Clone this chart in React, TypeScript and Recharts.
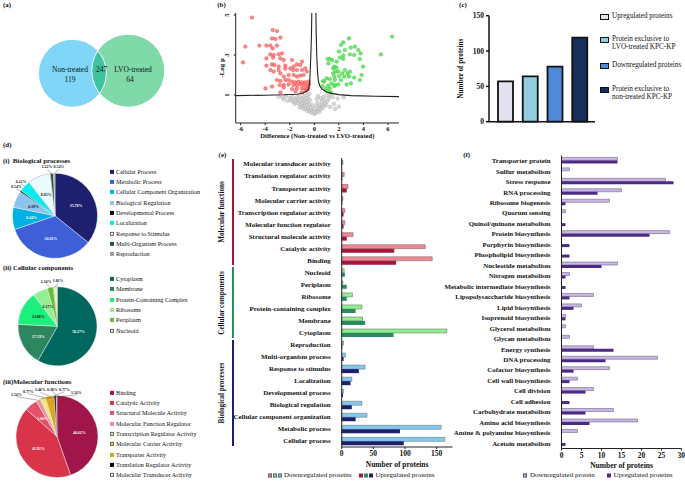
import React from 'react'
import {
  BarChart,
  Bar,
  XAxis,
  YAxis,
  Cell,
  PieChart,
  Pie,
  ScatterChart,
  Scatter,
} from 'recharts'

const FONT = '"Liberation Serif", "Times New Roman", serif'

// (a) venn
const vennSets = ['Non-treated', 'LVO-treated']
const vennOnly = [119, 64]
const vennShared = 247

// (b) volcano: [difference, -log p]
const redPoints = [
  [-5.07, 4.87], [-5.61, 3.42], [-5.8, 2.63], [-4.47, 3.47], [-3.9, 3.47], [-3.39, 4.25], [-3.04, 4.2],
  [-3.44, 3.83], [-2.76, 3.87], [-3.17, 3.8], [-3.58, 3.47], [-3.39, 3.33], [-3.04, 3.47], [-2.9, 3.03],
  [-3.58, 3.03], [-3.31, 3.0], [-2.63, 3.08], [-3.9, 2.83], [-3.36, 2.87], [-2.76, 2.83], [-3.9, 2.47],
  [-3.44, 2.53], [-3.25, 2.5], [-2.49, 2.75], [-2.36, 2.47], [-2.9, 2.42], [-3.58, 2.25], [-3.31, 2.17],
  [-2.9, 2.25], [-2.36, 2.33], [-1.81, 2.75], [-1.68, 2.42], [-1.41, 2.53], [-1.14, 2.5], [-1.0, 2.67],
  [-1.95, 2.33], [-1.73, 2.25], [-1.41, 2.25], [-1.0, 2.25], [-0.73, 2.33], [-2.76, 2.08], [-2.49, 1.92],
  [-2.09, 2.0], [-1.68, 2.0], [-1.41, 1.92], [-1.14, 1.97], [-0.87, 2.0], [-0.6, 2.17], [-3.04, 1.75],
  [-2.76, 1.7], [-2.36, 1.75], [-2.09, 1.75], [-1.81, 1.67], [-1.54, 1.63], [-1.27, 1.67], [-1.0, 1.63],
  [-0.73, 1.63], [-0.46, 1.67], [-2.82, 1.5], [-2.49, 1.5], [-2.09, 1.53], [-1.68, 1.5], [-1.41, 1.5],
  [-1.14, 1.53], [-0.87, 1.5], [-0.6, 1.47], [-3.44, 1.42], [-2.49, 1.37], [-1.81, 1.3], [-1.41, 1.33],
  [-1.0, 1.33], [-0.73, 1.3], [-0.5, 1.36], [-3.98, 1.33], [-2.76, 1.13], [-1.54, 1.17], [-1.0, 1.13],
  [-0.65, 1.22], [-0.55, 1.28], [-0.42, 1.52],
]
const greenPoints = [
  [6.34, 3.92], [2.82, 3.83], [2.36, 3.63], [2.17, 3.5], [3.31, 3.42], [2.98, 3.37], [3.58, 3.25],
  [2.01, 3.17], [2.49, 3.25], [5.42, 3.03], [2.9, 3.03], [2.36, 2.97], [2.09, 2.87], [1.08, 2.8],
  [1.27, 2.8], [1.46, 2.75], [3.25, 3.0], [3.77, 3.08], [2.36, 2.8], [1.82, 2.67], [3.71, 2.8],
  [1.14, 2.58], [1.63, 2.42], [1.82, 2.37], [1.54, 2.33], [3.98, 2.42], [2.49, 2.25], [1.95, 2.17],
  [1.73, 2.17], [1.54, 2.08], [2.28, 2.08], [2.71, 2.08], [2.9, 2.17], [3.85, 2.0], [1.63, 1.92],
  [2.01, 1.95], [2.44, 1.92], [2.82, 1.92], [3.25, 1.87], [1.0, 1.83], [1.27, 1.8], [1.68, 1.75],
  [2.17, 1.75], [3.71, 1.75], [0.73, 1.7], [1.41, 1.58], [1.95, 1.53], [2.63, 1.53], [2.98, 1.58],
  [1.14, 1.47], [1.63, 1.45], [0.92, 1.33], [1.27, 1.33], [1.68, 1.5], [1.08, 1.2], [1.36, 1.13],
  [0.81, 1.67], [0.65, 1.45],
]
const greyPoints = [
  [-2.9, 0.92], [-2.6, 0.88], [-2.3, 0.93], [-2.0, 0.85], [-1.8, 0.9], [-1.6, 0.8], [-1.4, 0.88],
  [-1.2, 0.93], [-1.0, 0.85], [-0.8, 0.95], [-0.6, 1.0], [-0.4, 1.05], [-2.2, 0.7], [-1.9, 0.72],
  [-1.7, 0.65], [-1.5, 0.7], [-1.3, 0.75], [-1.1, 0.68], [-0.9, 0.72], [-0.7, 0.8], [-0.5, 0.85],
  [-1.6, 0.55], [-1.35, 0.6], [-1.15, 0.5], [-0.95, 0.58], [-0.75, 0.6], [-0.55, 0.65], [-0.35, 0.75],
  [-1.2, 0.38], [-1.0, 0.42], [-0.8, 0.45], [-0.6, 0.5], [-0.4, 0.55], [-0.9, 0.3], [-0.7, 0.32],
  [-0.5, 0.35], [-0.3, 0.4], [-0.6, 0.2], [-0.4, 0.22], [-0.2, 0.25], [-0.3, 0.12], [-0.1, 0.15],
  [0.0, 0.05], [0.1, 0.1], [0.2, 0.18], [0.3, 0.22], [0.4, 0.15], [0.5, 0.28], [0.35, 0.35],
  [0.55, 0.4], [0.7, 0.35], [0.8, 0.45], [0.45, 0.5], [0.65, 0.55], [0.9, 0.6], [1.0, 0.5],
  [0.6, 0.7], [0.8, 0.75], [1.1, 0.72], [0.5, 0.85], [0.75, 0.9], [1.2, 0.85], [1.5, 0.9],
  [1.9, 0.82], [2.4, 0.88], [1.3, 0.4], [1.6, 0.55], [0.25, 0.6], [0.15, 0.45], [-0.15, 0.5],
  [0.0, 0.3], [-2.5, 0.78], [0.3, 0.95], [0.2, 0.8], [1.3, 1.02], [1.0, 0.98], [2.0, 0.42], [1.7, 0.3],
]
const leftCurve = [
  [-6.4, 0.97], [-4, 0.99], [-2.5, 1.01], [-1.4, 1.04], [-0.9, 1.1], [-0.6, 1.2], [-0.46, 1.3],
  [-0.38, 1.6], [-0.33, 2.2], [-0.28, 3.0], [-0.23, 4.0], [-0.2, 5.1],
]
const rightCurve = [
  [0.13, 5.1], [0.16, 4.0], [0.2, 3.0], [0.26, 2.2], [0.33, 1.7], [0.45, 1.45], [0.63, 1.3],
  [1.0, 1.15], [1.4, 1.08], [2.0, 1.02], [3.0, 0.97], [5.0, 0.94], [6.9, 0.92],
]

// (c)
const cLegend = [
  ['Upregulated proteins'],
  ['Protein exclusive to', 'LVO-treated KPC-KP'],
  ['Downregulated proteins'],
  ['Protein exclusive to', 'non-treated KPC-KP'],
]
const cCounts = [57, 64, 78, 119]
const cColors = ['#e6e1ee', '#93cde0', '#4d8ad8', '#16305a']

// (d) pies
const bpNames = ['Cellular Process', 'Metabolic Process', 'Cellular Component Organization', 'Biological Regulation', 'Developmental Process', 'Localization', 'Response to Stimulus', 'Multi-Organism Process', 'Reproduction']
const bpShare = [35.78, 34.01, 8.44, 6.39, 0.54, 4.22, 8.85, 1.22, 0.54]
const bpColors = ['#1e1f6e', '#3f5fd8', '#00b2e3', '#8cc4ee', '#000000', '#00eef0', '#e9fbfd', '#2d4f4a', '#9e9e9e']

const ccNames = ['Cytoplasm', 'Membrane', 'Protein-Containing Complex', 'Ribosome', 'Periplasm', 'Nucleoid']
const ccShare = [58.27, 17.53, 13.88, 6.17, 2.34, 1.81]
const ccColors = ['#00675f', '#2c8660', '#1cf07c', '#93ee93', '#6dbb3c', '#e3f3c0']

const mfNames = ['Binding', 'Catalytic Activity', 'Structural Molecule Activity', 'Molecular Function Regulator', 'Transcription Regulator Activity', 'Molecular Carrier Activity', 'Transporter Activity', 'Translation Regulator Activity', 'Molecular Transducer Activity']
const mfShare = [44.62, 41.92, 5.0, 1.54, 1.54, 0.77, 3.46, 0.77, 0.38]
const mfColors = ['#a0164a', '#d8354a', '#e5506a', '#f08c98', '#f4e6a6', '#e6e41e', '#d9a420', '#000000', '#f2f2f2']

// (e) GO terms
const goTerms = [
  'Molecular transducer activity', 'Translation regulator activity', 'Transporter activity', 'Molecular carrier activity',
  'Transcription regulator activity', 'Molecular function regulator', 'Structural molecule activity', 'Catalytic activity', 'Binding',
  'Nucleoid', 'Periplasm', 'Ribosome', 'Protein-containing complex', 'Membrane', 'Cytoplasm',
  'Reproduction', 'Multi-organism process', 'Response to stimulus', 'Localization', 'Developmental process',
  'Biological regulation', 'Cellular component organization', 'Metabolic process', 'Cellular process',
]
const goDown = [2, 4, 10, 2, 5, 5, 18, 132, 143, 4, 2, 17, 32, 33, 166, 3, 6, 37, 16, 3, 32, 40, 157, 163]
const goUp = [0, 1, 8, 1, 3, 3, 8, 83, 86, 5, 8, 8, 22, 37, 82, 1, 3, 27, 14, 2, 16, 22, 92, 98]
const goGroupNames = ['Molecular functions', 'Cellular components', 'Biological processes']
const goGroupSizes = [9, 6, 9]
const goLight = ['#f2858f', '#8ef08c', '#80caf2']
const goDark = ['#a3173f', '#2b8a5f', '#1c1f6b']

// (f) functional classes
const cogTerms = [
  'Transporter protein', 'Sulfur metabolism', 'Stress response', 'RNA processing', 'Ribosome biogenesis', 'Quorum sensing',
  'Quinol/quinone metabolism', 'Protein biosynthesis', 'Porphyrin biosynthesis', 'Phospholipid biosynthesis',
  'Nucleotide metabolism', 'Nitrogen metabolism', 'Metabolic intermediate biosynthesis', 'Lipopolysaccharide biosynthesis',
  'Lipid biosynthesis', 'Isoprenoid biosynthesis', 'Glycerol metabolism', 'Glycan metabolism', 'Energy synthesis',
  'DNA processing', 'Cofactor biosynthesis', 'Cell wall biosynthesis', 'Cell division', 'Cell adhesion',
  'Carbohydrate metabolism', 'Amino acid biosynthesis', 'Amine & polyamine biosynthesis', 'Acetoin metabolism',
]
const cogDown = [14, 2, 26, 15, 12, 1, 0, 27, 0, 0, 14, 2, 0, 8, 5, 1, 1, 2, 8, 24, 12, 4, 8, 0, 13, 19, 4, 0]
const cogUp = [14, 0, 28, 9, 1, 0, 1, 22, 2, 2, 10, 1, 1, 2, 3, 1, 0, 0, 13, 11, 3, 2, 6, 2, 6, 7, 0, 1]

function Txt({ x, y, children, size = 7, bold = false, align = 'left', rot = false, color = '#111' }: any) {
  const tx = rot || align === 'center' ? '-50%' : align === 'right' ? '-100%' : '0'
  return (
    <div
      style={{
        position: 'absolute', left: x, top: y, fontSize: size, fontWeight: bold ? 700 : 400, color,
        lineHeight: 1, whiteSpace: 'nowrap',
        transform: `translate(${tx}, -50%)${rot ? ' rotate(-90deg)' : ''}`,
      }}
    >
      {children}
    </div>
  )
}

const toPts = (arr: number[][]) => arr.map(([x, y]) => ({ x, y }))
const dot = (fill: string, stroke: string) => (p: any) => (
  <circle cx={p.cx} cy={p.cy} r={1.8} fill={fill} fillOpacity={0.8} stroke={stroke} strokeWidth={0.4} />
)

// venn circles in axis units (1 unit = UX px on both axes)
const VENN_LAYOUT = [{ x: 2.28, y: 1.63, r: 1.07, color: '#7fd6f7' }, { x: 4.04, y: 1.71, r: 1.15, color: '#80d9a9' }]
const VW = 200
const VH = 125
const UX = VW / 6.3

function lens(ax: number, ay: number, ra: number, bx: number, by: number, rb: number) {
  const d = Math.hypot(bx - ax, by - ay)
  const a = (ra * ra - rb * rb + d * d) / (2 * d)
  const h = Math.sqrt(Math.max(ra * ra - a * a, 0))
  const px = ax + (a * (bx - ax)) / d
  const py = ay + (a * (by - ay)) / d
  const tx = px + (h * (by - ay)) / d
  const ty = py - (h * (bx - ax)) / d
  const qx = px - (h * (by - ay)) / d
  const qy = py + (h * (bx - ax)) / d
  return `M${tx},${ty} A${rb},${rb} 0 0 0 ${qx},${qy} A${ra},${ra} 0 0 0 ${tx},${ty} Z`
}

function Venn() {
  const rows = vennSets.map((name, i) => ({ name, i, ...VENN_LAYOUT[i] }))
  const L = VENN_LAYOUT[0]
  return (
    <ScatterChart width={VW} height={VH} margin={{ top: 0, right: 0, bottom: 0, left: 0 }}>
      <XAxis type="number" dataKey="x" domain={[0, VW / UX]} hide />
      <YAxis type="number" dataKey="y" domain={[0, VH / UX]} hide />
      <Scatter
        data={rows}
        isAnimationActive={false}
        shape={(p: any) => {
          const r = p.payload.r * UX
          if (p.payload.i === 0) return <circle cx={p.cx} cy={p.cy} r={r} fill={p.payload.color} />
          const lx = L.x * UX
          const ly = VH - L.y * UX
          const lr = L.r * UX
          return (
            <g>
              <circle cx={p.cx} cy={p.cy} r={r} fill={p.payload.color} />
              <path d={lens(lx, ly, lr, p.cx, p.cy, r)} fill="#3ec39f" />
              <circle cx={lx} cy={ly} r={lr} fill="none" stroke="#fff" strokeWidth={1} />
              <circle cx={p.cx} cy={p.cy} r={r} fill="none" stroke="#fff" strokeWidth={1} />
            </g>
          )
        }}
      />
    </ScatterChart>
  )
}

const VTick = ({ x, y, payload }: any) => (
  <text x={x - 3} y={y} textAnchor="middle" fontSize={6.5} fontWeight="bold" fontFamily={FONT} fill="#111" transform={`rotate(-90, ${x - 3}, ${y})`}>
    {payload.value}
  </text>
)

function Volcano() {
  return (
    <ScatterChart width={215} height={140} margin={{ top: 13, right: 11, bottom: 0, left: 0 }}>
      <XAxis
        type="number" dataKey="x" domain={[-6.4, 6.9]} ticks={[-6, -4, -2, 0, 2, 4, 6]} allowDataOverflow
        height={17} tickSize={2} tickMargin={1} stroke="#222"
        tick={{ fontSize: 6.5, fontWeight: 'bold', fill: '#111', fontFamily: FONT }}
        label={{ value: 'Difference (Non-treated vs LVO-treated)', position: 'insideBottom', offset: 2.5, fontSize: 6.6, fontWeight: 'bold', fill: '#111', fontFamily: FONT }}
      />
      <YAxis
        type="number" dataKey="y" domain={[-0.4, 5.1]} ticks={[0, 1, 2, 3, 4, 5]} allowDataOverflow
        width={40.7} tickSize={2} stroke="#222" tick={<VTick />}
        label={{ value: '-Log p', angle: -90, position: 'insideLeft', offset: 27, fontSize: 7, fontWeight: 'bold', fill: '#111', fontFamily: FONT, style: { textAnchor: 'middle' } }}
      />
      <Scatter data={toPts(greyPoints)} isAnimationActive={false} shape={dot('#cfcfcf', '#aaaaaa')} />
      <Scatter data={toPts(redPoints)} isAnimationActive={false} shape={dot('#ff6b6b', '#e84545')} />
      <Scatter data={toPts(greenPoints)} isAnimationActive={false} shape={dot('#52e052', '#2fc22f')} />
      <Scatter data={toPts(leftCurve)} isAnimationActive={false} line={{ stroke: '#222', strokeWidth: 1.1 }} shape={() => <g />} />
      <Scatter data={toPts(rightCurve)} isAnimationActive={false} line={{ stroke: '#222', strokeWidth: 1.1 }} shape={() => <g />} />
    </ScatterChart>
  )
}

function Counts() {
  const rows = cCounts.map((value, i) => ({ name: cLegend[i].join(' '), value }))
  return (
    <BarChart width={170} height={130} data={rows} margin={{ top: 15.7, right: 5, bottom: 0, left: 0 }}>
      <XAxis dataKey="name" tick={false} tickLine={false} height={8.3} stroke="#111" strokeWidth={1.5} padding={{ left: 4, right: 3 }} />
      <YAxis
        domain={[0, 150]} ticks={[0, 50, 100, 150]} width={59} tickSize={3} stroke="#111" strokeWidth={1.5}
        tick={{ fontSize: 7.5, fontWeight: 'bold', fill: '#111', fontFamily: FONT }}
        label={{ value: 'Number of proteins', angle: -90, position: 'insideLeft', offset: 30, fontSize: 7.2, fontWeight: 'bold', fill: '#111', fontFamily: FONT, style: { textAnchor: 'middle' } }}
      />
      <Bar dataKey="value" barSize={15} stroke="#111" strokeWidth={1.8} isAnimationActive={false}>
        {rows.map((_, i) => <Cell key={i} fill={cColors[i]} />)}
      </Bar>
    </BarChart>
  )
}

function lum(hex: string) {
  const n = parseInt(hex.slice(1), 16)
  return (0.299 * (n >> 16) + 0.587 * ((n >> 8) & 255) + 0.114 * (n & 255)) / 255
}

function GoPie({ names, share, colors, cx, cy, r, height }: any) {
  const total = share.reduce((s: number, v: number) => s + v, 0)
  const outs: any[] = []
  let acc = 0
  share.forEach((v: number, i: number) => {
    const mid = ((90 - ((acc + v / 2) / total) * 360) * Math.PI) / 180
    acc += v
    if (v < 5) {
      outs.push({
        i,
        ax: cx + r * Math.cos(mid), ay: cy - r * Math.sin(mid),
        x: cx + (r + 5) * Math.cos(mid), y: cy - (r + 5) * Math.sin(mid),
      })
    }
  })
  // spread the small-slice labels apart
  for (let pass = 0; pass < 30; pass++) {
    for (let a = 0; a < outs.length; a++) {
      for (let b = a + 1; b < outs.length; b++) {
        const A = outs[a], B = outs[b]
        if (Math.abs(A.y - B.y) < 5 && Math.abs(A.x - B.x) < 12) {
          const push = (12 - Math.abs(A.x - B.x)) / 2
          if (A.x <= B.x) { A.x -= push; B.x += push } else { A.x += push; B.x -= push }
        }
      }
    }
  }
  const data = names.map((name: string, i: number) => ({ name, value: share[i] }))
  const renderLabel = (p: any) => {
    const i = p.index
    const v = share[i]
    const txt = `${v.toFixed(2)}%`
    if (v >= 5) {
      const rad = (p.midAngle * Math.PI) / 180
      const x = p.cx + r * 0.55 * Math.cos(rad)
      const y = p.cy - r * 0.55 * Math.sin(rad)
      return (
        <text x={x} y={y} dy="0.35em" textAnchor="middle" fontSize={3.9} fontWeight="bold" fontFamily={FONT} fill={lum(colors[i]) < 0.55 ? '#fff' : '#111'}>
          {txt}
        </text>
      )
    }
    const o = outs.find((q) => q.i === i)
    return (
      <g>
        <polyline points={`${o.ax},${o.ay} ${o.x},${o.y + 1}`} fill="none" stroke="#333" strokeWidth={0.35} />
        <text x={o.x} y={o.y} textAnchor="middle" fontSize={3.9} fontWeight="bold" fontFamily={FONT} fill="#111">
          {txt}
        </text>
      </g>
    )
  }
  return (
    <PieChart width={110} height={height} margin={{ top: 0, right: 0, bottom: 0, left: 0 }}>
      <Pie
        data={data} dataKey="value" cx={cx} cy={cy} outerRadius={r} startAngle={90} endAngle={-270}
        stroke="#fff" strokeWidth={0.4} label={renderLabel} labelLine={false} isAnimationActive={false}
      >
        {data.map((_: any, i: number) => (
          <Cell key={i} fill={colors[i]} stroke={lum(colors[i]) > 0.85 ? '#8a8a8a' : '#fff'} />
        ))}
      </Pie>
    </PieChart>
  )
}

function PieLegend({ names, colors, top }: any) {
  return (
    <div style={{ position: 'absolute', left: 108, top: 0, width: 92, height: 481, overflow: 'hidden' }}>
      {names.map((n: string, i: number) => (
        <div key={n} style={{ position: 'absolute', left: 2, top: top + i * 10.3, transform: 'translateY(-50%)', display: 'flex', alignItems: 'center', whiteSpace: 'nowrap' }}>
          <span style={{ width: 4, height: 4, background: colors[i], border: lum(colors[i]) > 0.8 ? '0.5px solid #666' : 'none', boxSizing: 'border-box', marginRight: 2 }} />
          <span style={{ fontSize: 6.2, lineHeight: 1 }}>{n}</span>
        </div>
      ))}
    </div>
  )
}

const CatTick = (size: number) => ({ x, y, payload }: any) => (
  <text x={x - 3} y={y} dy="0.35em" textAnchor="end" fontSize={size} fontWeight="bold" fontFamily={FONT} fill="#111">
    {payload.value}
  </text>
)

function GoBars() {
  const groupOf: number[] = []
  goGroupSizes.forEach((n, g) => { for (let k = 0; k < n; k++) groupOf.push(g) })
  const rows = goTerms.map((name, i) => ({ name, down: goDown[i], up: goUp[i] }))
  return (
    <BarChart layout="vertical" width={250} height={330} data={rows} margin={{ top: 18, right: 7.5, bottom: 0, left: 0 }} barCategoryGap="20%" barGap={0}>
      <XAxis
        type="number" domain={[0, 175]} ticks={[0, 50, 100, 150]} height={23} tickSize={2} stroke="#222"
        tick={{ fontSize: 7.5, fontWeight: 'bold', fill: '#111', fontFamily: FONT }}
        label={{ value: 'Number of proteins', position: 'insideBottom', offset: 3, fontSize: 7.5, fontWeight: 'bold', fill: '#111', fontFamily: FONT }}
      />
      <YAxis type="category" dataKey="name" width={131.7} interval={0} tickLine={false} stroke="#222" tick={CatTick(6.9)} />
      <Bar dataKey="down" stroke="#666" strokeWidth={0.5} isAnimationActive={false}>
        {rows.map((_, i) => <Cell key={i} fill={goLight[groupOf[i]]} />)}
      </Bar>
      <Bar dataKey="up" isAnimationActive={false}>
        {rows.map((_, i) => <Cell key={i} fill={goDark[groupOf[i]]} />)}
      </Bar>
    </BarChart>
  )
}

function CogBars() {
  const rows = cogTerms.map((name, i) => ({ name, down: cogDown[i], up: cogUp[i] }))
  return (
    <BarChart layout="vertical" width={290} height={330} data={rows} margin={{ top: 15.5, right: 3.5, bottom: 0, left: 0 }} barCategoryGap="18%" barGap={0}>
      <XAxis
        type="number" domain={[0, 30]} ticks={[0, 5, 10, 15, 20, 25, 30]} height={21.5} tickSize={2} stroke="#222"
        tick={{ fontSize: 7.5, fontWeight: 'bold', fill: '#111', fontFamily: FONT }}
        label={{ value: 'Number of proteins', position: 'insideBottom', offset: 2, fontSize: 7.5, fontWeight: 'bold', fill: '#111', fontFamily: FONT }}
      />
      <YAxis type="category" dataKey="name" width={166.5} interval={0} tickLine={false} stroke="#222" tick={CatTick(6.9)} />
      <Bar dataKey="down" fill="#c9b8e3" stroke="#5a4a7a" strokeWidth={0.5} isAnimationActive={false} />
      <Bar dataKey="up" fill="#4c2c82" isAnimationActive={false} />
    </BarChart>
  )
}

const Sq = ({ color, border = 'none', w = 4, h = 4 }: any) => (
  <span style={{ display: 'inline-block', width: w, height: h, background: color, border, boxSizing: 'border-box', marginRight: 1 }} />
)

const legendRow = (left: number): React.CSSProperties => ({
  position: 'absolute', left, top: 475, transform: 'translateY(-50%)', display: 'flex', alignItems: 'center', fontSize: 7, lineHeight: 1, whiteSpace: 'nowrap',
})

export default function App() {
  const goTop = 158
  const goRow = (447 - 158) / goTerms.length
  let gAcc = 0
  const brackets = goGroupSizes.map((n, g) => {
    const t = goTop + gAcc * goRow
    gAcc += n
    return { t, b: goTop + gAcc * goRow, g }
  })
  return (
    <div style={{ position: 'absolute', left: 0, top: 0, width: 685, height: 481, overflow: 'hidden', background: '#fff', fontFamily: FONT, color: '#111' }}>
      {/* (a) */}
      <Txt x={3} y={5} size={7} bold>(a)</Txt>
      <div style={{ position: 'absolute', left: 0, top: 0 }}><Venn /></div>
      <Txt x={70} y={70} size={7.5} align="center">{vennSets[0]}</Txt>
      <Txt x={70} y={80} size={7.5} align="center">{vennOnly[0]}</Txt>
      <Txt x={101.5} y={70} size={7.5} align="center">{vennShared}</Txt>
      <Txt x={133} y={70} size={7.5} align="center">{vennSets[1]}</Txt>
      <Txt x={130} y={80} size={7.5} align="center">{vennOnly[1]}</Txt>

      {/* (b) */}
      <Txt x={221.5} y={5} size={7} bold align="center">(b)</Txt>
      <div style={{ position: 'absolute', left: 195, top: 0 }}><Volcano /></div>

      {/* (c) */}
      <Txt x={463} y={5} size={7} bold align="center">(c)</Txt>
      <div style={{ position: 'absolute', left: 430, top: 0 }}><Counts /></div>
      {cLegend.map((lines, i) => {
        const ys = [17.3, 40, 65.7, 89.6][i]
        return (
          <div key={i}>
            <span style={{ position: 'absolute', left: 600, top: ys - 3, width: 9, height: 6, background: cColors[i], border: '1.4px solid #111', boxSizing: 'border-box' }} />
            {lines.map((l, k) => (
              <Txt key={k} x={612} y={ys + k * 8.4} size={7.2}>{l}</Txt>
            ))}
          </div>
        )
      })}

      {/* (d) */}
      <Txt x={3} y={145} size={7} bold>(d)</Txt>
      <Txt x={3} y={160.7} size={6.8} bold>(i)&nbsp;&nbsp;Biological processes</Txt>
      <div style={{ position: 'absolute', left: 0, top: 160 }}>
        <GoPie names={bpNames} share={bpShare} colors={bpColors} cx={55} cy={55.8} r={42.5} height={105} />
      </div>
      <PieLegend names={bpNames} colors={bpColors} top={171.7} />

      <Txt x={3} y={268.3} size={6.8} bold>(ii) Cellular components</Txt>
      <div style={{ position: 'absolute', left: 0, top: 270 }}>
        <GoPie names={ccNames} share={ccShare} colors={ccColors} cx={57.5} cy={56.3} r={39.5} height={105} />
      </div>
      <PieLegend names={ccNames} colors={ccColors} top={279} />

      <Txt x={3} y={381.7} size={6.8} bold>(iii)Molecular functions</Txt>
      <div style={{ position: 'absolute', left: 0, top: 380 }}>
        <GoPie names={mfNames} share={mfShare} colors={mfColors} cx={57} cy={56.5} r={41} height={101} />
      </div>
      <PieLegend names={mfNames} colors={mfColors} top={392.7} />

      {/* (e) */}
      <Txt x={222.5} y={155} size={7} bold align="center">(e)</Txt>
      <div style={{ position: 'absolute', left: 210, top: 140 }}><GoBars /></div>
      {brackets.map(({ t, b, g }) => (
        <div key={g}>
          <div style={{ position: 'absolute', left: 232, top: t + 1, width: 1.6, height: b - t - 2, background: goDark[g] }} />
          <Txt x={222.5} y={(t + b) / 2} size={7.2} bold rot>{goGroupNames[g]}</Txt>
        </div>
      ))}
      <div style={legendRow(268)}>
        {goLight.map((c) => <Sq key={c} color={c} border="0.5px solid #666" />)}
        <span style={{ marginLeft: 1, marginRight: 8 }}>Downregulated proteins</span>
        {goDark.map((c) => <Sq key={c} color={c} />)}
        <span style={{ marginLeft: 1 }}>Upregulated proteins</span>
      </div>

      {/* (f) */}
      <Txt x={466.7} y={155} size={7} bold align="center">(f)</Txt>
      <div style={{ position: 'absolute', left: 395, top: 140 }}><CogBars /></div>
      <div style={legendRow(523)}>
        <Sq color="#c9b8e3" border="0.5px solid #5a4a7a" />
        <span style={{ marginLeft: 2 }}>Downregulated protein</span>
      </div>
      <div style={legendRow(606.5)}>
        <Sq color="#4c2c82" />
        <span style={{ marginLeft: 2 }}>Upregulated proteins</span>
      </div>
    </div>
  )
}
